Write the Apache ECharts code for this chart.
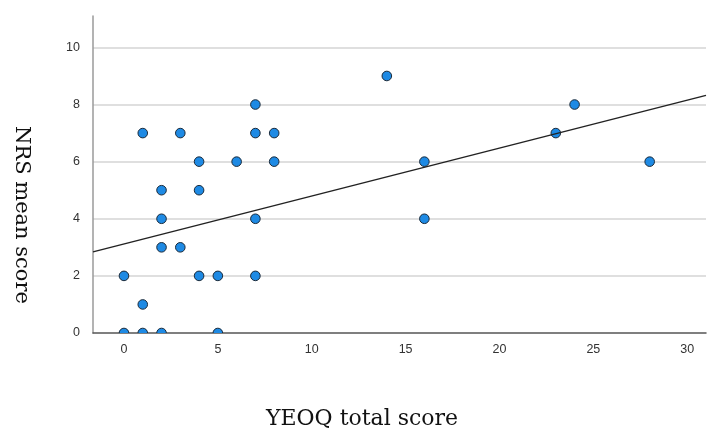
<!DOCTYPE html>
<html>
<head>
<meta charset="utf-8">
<script src="https://cdn.jsdelivr.net/npm/echarts@6/dist/echarts.min.js"></script>
<style>html,body{margin:0;padding:0;background:#fff}#c{width:707px;height:432px}</style>
</head>
<body>
<div id="c"></div>
<script>
// Data
const xValues = [0, 1, 2, 5, 0, 1, 1, 3, 2, 2, 2, 3, 4, 4, 4, 5, 6, 7, 7, 7, 7, 8, 8, 14, 16, 16, 23, 24, 28];
const yValues = [0, 0, 0, 0, 2, 1, 7, 7, 5, 4, 3, 3, 6, 5, 2, 2, 6, 8, 7, 4, 2, 7, 6, 9, 6, 4, 7, 8, 6];
const fitLineX = [-1.65, 31];
const fitLineY = [2.84, 8.32];
const xTickLabels = [0, 5, 10, 15, 20, 25, 30];
const yTickLabels = [0, 2, 4, 6, 8, 10];
const xTitle = 'YEOQ total score';
const yTitle = 'NRS mean score';

const points = xValues.map((x, i) => [x, yValues[i]]);
const fitLine = fitLineX.map((x, i) => [x, fitLineY[i]]);

const chart = echarts.init(document.getElementById('c'), null, {renderer: 'canvas'});
chart.setOption({
  animation: false,
  backgroundColor: '#ffffff',
  grid: {left: 93, right: 1, top: 16, bottom: 99, containLabel: false},
  xAxis: {
    type: 'value', min: -1.65, max: 31,
    axisLine: {show: true, onZero: false, lineStyle: {color: '#555555', width: 1.5}},
    axisTick: {show: false},
    splitLine: {show: false},
    axisLabel: {customValues: xTickLabels, color: '#333', fontFamily: 'Liberation Sans', fontSize: 12.5, margin: 10}
  },
  yAxis: {
    type: 'value', min: 0, max: 11.1, interval: 2,
    axisLine: {show: true, onZero: false, lineStyle: {color: '#9a9a9a', width: 1.5}},
    axisTick: {show: false},
    splitLine: {show: true, showMinLine: false, showMaxLine: false, lineStyle: {color: '#d4d4d4', width: 1.5}},
    axisLabel: {showMaxLabel: false, color: '#333', fontFamily: 'Liberation Sans', fontSize: 12.5, margin: 13,
      formatter: v => (yTickLabels.indexOf(v) >= 0 ? String(v) : '')}
  },
  graphic: [
    {type: 'text', left: 266, top: 408, style: {text: xTitle, font: '22px "DejaVu Serif"', fill: '#111'}},
    {type: 'text', x: 32, y: 126, rotation: -Math.PI / 2, style: {text: yTitle, font: '21px "DejaVu Serif"', fill: '#111'}}
  ],
  series: [
    {
      type: 'custom',
      clip: true,
      data: points,
      renderItem: function (params, api) {
        const p = api.coord([api.value(0), api.value(1)]);
        return {type: 'circle', shape: {cx: p[0], cy: p[1], r: 4.8},
          style: {fill: '#1e8ae4', stroke: '#1a2a3a', lineWidth: 1}};
      },
      z: 2
    },
    {
      type: 'line',
      data: fitLine,
      symbol: 'none',
      clip: true,
      lineStyle: {color: '#222222', width: 1.5},
      z: 3
    }
  ]
});
</script>
</body>
</html>
